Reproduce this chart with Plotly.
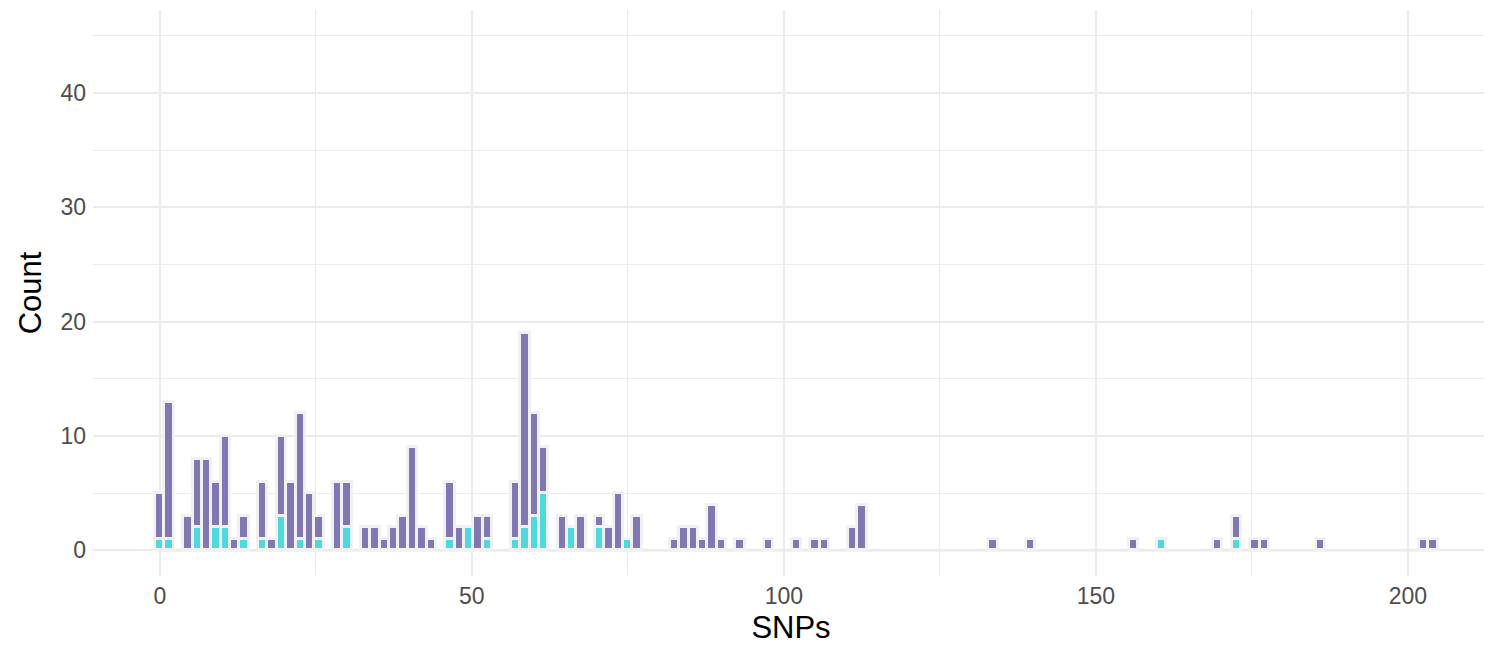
import plotly.graph_objects as go

# Bin centres (SNPs, bin width 1.5) and stacked counts
snp_bins = [0, 1.5, 4.5, 6, 7.5, 9, 10.5, 12, 13.5, 16.5, 18, 19.5, 21, 22.5, 24, 25.5,
            28.5, 30, 33, 34.5, 36, 37.5, 39, 40.5, 42, 43.5, 46.5, 48, 49.5, 51, 52.5,
            57, 58.5, 60, 61.5, 64.5, 66, 67.5, 70.5, 72, 73.5, 75, 76.5,
            82.5, 84, 85.5, 87, 88.5, 90, 93, 97.5, 102, 105, 106.5, 111, 112.5,
            133.5, 139.5, 156, 160.5, 169.5, 172.5, 175.5, 177, 186, 202.5, 204]
total_counts = [5, 13, 3, 8, 8, 6, 10, 1, 3, 6, 1, 10, 6, 12, 5, 3,
                6, 6, 2, 2, 1, 2, 3, 9, 2, 1, 6, 2, 2, 3, 3,
                6, 19, 12, 9, 3, 2, 3, 3, 2, 5, 1, 3,
                1, 2, 2, 1, 4, 1, 1, 1, 1, 1, 1, 2, 4,
                1, 1, 1, 1, 1, 3, 1, 1, 1, 1, 1]
cyan_counts = [1, 1, 0, 2, 0, 2, 2, 0, 1, 1, 0, 3, 0, 1, 0, 1,
               0, 2, 0, 0, 0, 0, 0, 0, 0, 0, 1, 0, 2, 0, 1,
               1, 2, 3, 5, 0, 2, 0, 2, 0, 0, 1, 0,
               0, 0, 0, 0, 0, 0, 0, 0, 0, 0, 0, 0, 0,
               0, 0, 0, 1, 0, 1, 0, 0, 0, 0, 0]
purple_counts = [t - c for t, c in zip(total_counts, cyan_counts)]

bin_width = 1.5
x_ticks = [0, 50, 100, 150, 200]
y_ticks = [0, 10, 20, 30, 40]

PURPLE = "#8077B3"
CYAN = "#4FD9DC"
OUTLINE = "#F1F1F1"
GRID = "#EBEBEB"
FONT = "Liberation Sans, Arial, sans-serif"

fig = go.Figure()
fig.add_trace(go.Bar(x=snp_bins, y=cyan_counts, width=bin_width, name="cyan",
                     marker=dict(color=CYAN, line=dict(color=OUTLINE, width=2.6)),
                     showlegend=False))
fig.add_trace(go.Bar(x=snp_bins, y=purple_counts, width=bin_width, name="purple",
                     marker=dict(color=PURPLE, line=dict(color=OUTLINE, width=2.6)),
                     showlegend=False))

# zero-height bins outline along the baseline
fig.add_shape(type="line", xref="x", yref="y",
              x0=min(snp_bins) - bin_width / 2, x1=max(snp_bins) + bin_width / 2,
              y0=0, y1=0, line=dict(color="#EEEEEE", width=3), layer="below")

fig.update_layout(
    width=1492, height=649,
    barmode="stack", bargap=0,
    plot_bgcolor="white", paper_bgcolor="white",
    margin=dict(l=85, r=11, t=2, b=81, autoexpand=False),
    font=dict(family=FONT),
    xaxis=dict(
        range=[-10.7, 213.0], automargin=False,
        tickvals=x_ticks, ticktext=[str(v) for v in x_ticks],
        showgrid=True, gridcolor=GRID, gridwidth=2,
        minor=dict(showgrid=True, gridcolor=GRID, gridwidth=1, dtick=25, tick0=0),
        zeroline=False, showline=False, ticks="",
        tickfont=dict(size=23, color="#4D4D4D", family=FONT),
        ticklabelstandoff=4,
        title=dict(text="SNPs", font=dict(size=31, color="black", family=FONT), standoff=8),
    ),
    yaxis=dict(
        range=[-2.25, 47.25], automargin=False,
        tickvals=y_ticks, ticktext=[str(v) for v in y_ticks],
        showgrid=True, gridcolor=GRID, gridwidth=2,
        minor=dict(showgrid=True, gridcolor=GRID, gridwidth=1, dtick=5, tick0=0),
        zeroline=False, showline=False, ticks="",
        tickfont=dict(size=23, color="#4D4D4D", family=FONT),
        ticklabelstandoff=6,
        title=dict(text="Count", font=dict(size=31, color="black", family=FONT), standoff=9),
    ),
)

fig.write_html("out.html")
